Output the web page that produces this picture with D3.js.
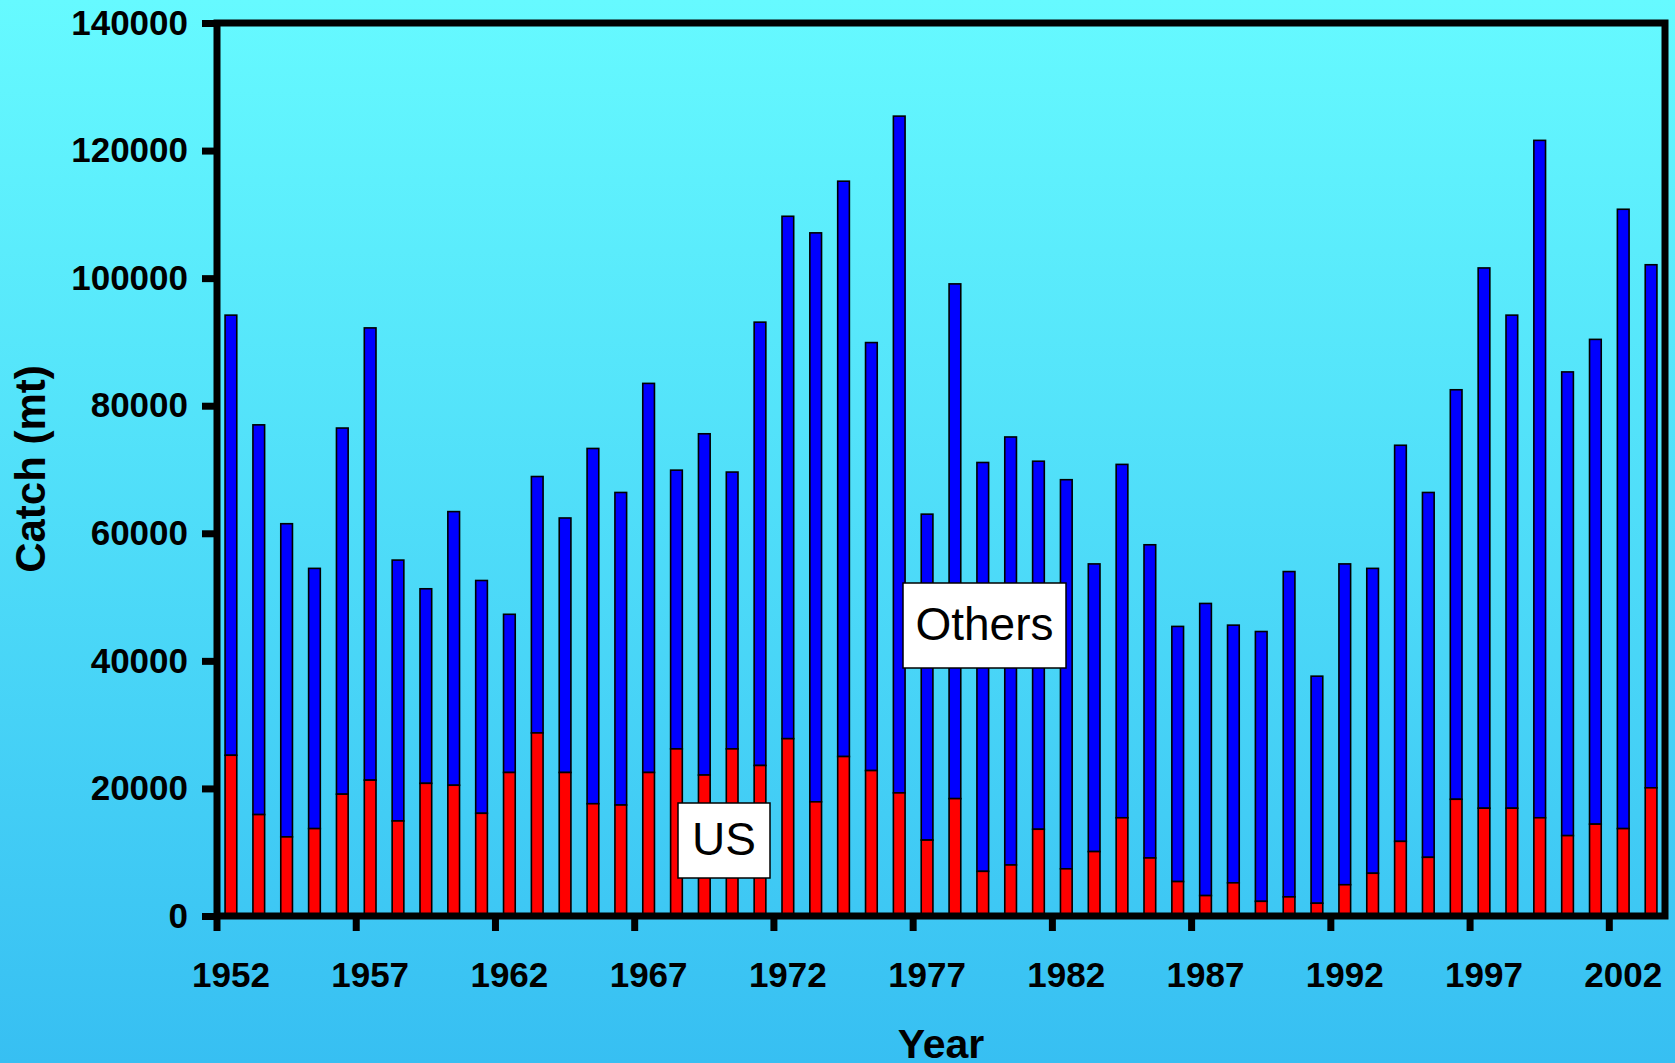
<!DOCTYPE html>
<html>
<head>
<meta charset="utf-8">
<script src="https://cdn.jsdelivr.net/npm/d3@7.9.0/dist/d3.min.js"></script>
<style>
  html, body { margin: 0; padding: 0; }
  body { width: 1675px; height: 1063px; overflow: hidden; }
  svg { display: block; font-family: "Liberation Sans", Arial, sans-serif; }
</style>
</head>
<body>
<svg width="1675" height="1063"></svg>
<script>
// catch by year, metric tons
const years = d3.range(1952, 2004);
const totalCatch = [
  94200, 77000, 61500, 54500, 76500, 92200, 55800, 51300, 63400, 52600,
  47300, 68900, 62400, 73300, 66400, 83500, 69900, 75600, 69600, 93100,
  109700, 107100, 115200, 89900, 125400, 63000, 99100, 71100, 75100, 71300,
  68400, 55200, 70800, 58200, 45400, 49000, 45600, 44600, 54000, 37600,
  55200, 54500, 73800, 66400, 82500, 101600, 94200, 121600, 85300, 90400,
  110800, 102100
];
const usCatch = [
  25200, 15900, 12400, 13700, 19100, 21300, 14900, 20800, 20500, 16100,
  22500, 28700, 22500, 17600, 17400, 22500, 26200, 22100, 26200, 23600,
  27800, 17900, 25000, 22800, 19300, 11900, 18400, 7000, 8000, 13600,
  7400, 10100, 15400, 9100, 5400, 3200, 5200, 2300, 3000, 2000,
  4900, 6700, 11700, 9200, 18300, 16900, 16900, 15400, 12600, 14400,
  13700, 20100
];
const yTicks = [0, 20000, 40000, 60000, 80000, 100000, 120000, 140000];
const xTickYears = [1952, 1957, 1962, 1967, 1972, 1977, 1982, 1987, 1992, 1997, 2002];

const rows = years.map((yr, i) => ({ year: yr, us: usCatch[i], total: totalCatch[i] }));

const svg = d3.select('svg');
const plotL = 217, plotR = 1665, plotT = 23, plotB = 916;

// background gradient
const defs = svg.append('defs');
const grad = defs.append('linearGradient').attr('id', 'bg').attr('x1', 0).attr('y1', 0).attr('x2', 0).attr('y2', 1);
grad.append('stop').attr('offset', '0%').attr('stop-color', '#66faff');
grad.append('stop').attr('offset', '100%').attr('stop-color', '#37bff2');
svg.append('rect').attr('width', 1675).attr('height', 1063).attr('fill', 'url(#bg)');

const x = d3.scaleBand().domain(years).range([plotL, plotR]).padding(0);
const y = d3.scaleLinear().domain([0, 140000]).range([plotB, plotT]);
const bw = x.bandwidth() * 0.42;

// others (blue) stacked above US (red)
svg.append('g').selectAll('rect').data(rows).join('rect')
  .attr('x', d => x(d.year) + (x.bandwidth() - bw) / 2)
  .attr('y', d => y(d.total))
  .attr('width', bw)
  .attr('height', d => y(d.us) - y(d.total))
  .attr('fill', '#0000ff').attr('stroke', '#000').attr('stroke-width', 1.6);

svg.append('g').selectAll('rect').data(rows).join('rect')
  .attr('x', d => x(d.year) + (x.bandwidth() - bw) / 2)
  .attr('y', d => y(d.us))
  .attr('width', bw)
  .attr('height', d => y(0) - y(d.us))
  .attr('fill', '#ff0000').attr('stroke', '#000').attr('stroke-width', 1.6);

// y axis
const yAxis = svg.append('g').attr('transform', `translate(${plotL},0)`)
  .call(d3.axisLeft(y).tickValues(yTicks).tickFormat(d3.format('d')).tickSizeInner(15).tickSizeOuter(0).tickPadding(14));
yAxis.select('.domain').remove();
yAxis.selectAll('.tick line').attr('stroke', '#000').attr('stroke-width', 7);
yAxis.selectAll('.tick text').attr('fill', '#000').attr('font-size', 35).attr('font-weight', 'bold')
  .attr('font-family', '"Liberation Sans", Arial, sans-serif');

// x axis: ticks on category edges, labels at category centres
const xg = svg.append('g');
xg.selectAll('line').data(xTickYears).join('line')
  .attr('x1', d => x(d)).attr('x2', d => x(d))
  .attr('y1', plotB).attr('y2', plotB + 15)
  .attr('stroke', '#000').attr('stroke-width', 7);
xg.selectAll('text').data(xTickYears).join('text')
  .attr('x', d => x(d) + x.bandwidth() / 2)
  .attr('y', 987)
  .attr('text-anchor', 'middle')
  .attr('font-size', 35).attr('font-weight', 'bold')
  .text(d => d);

// plot frame
svg.append('rect')
  .attr('x', plotL).attr('y', plotT).attr('width', plotR - plotL).attr('height', plotB - plotT)
  .attr('fill', 'none').attr('stroke', '#000').attr('stroke-width', 7);

// axis titles
svg.append('text')
  .attr('transform', 'translate(45,469) rotate(-90)')
  .attr('text-anchor', 'middle')
  .attr('font-size', 42).attr('font-weight', 'bold')
  .text('Catch (mt)');
svg.append('text')
  .attr('x', 941).attr('y', 1058)
  .attr('text-anchor', 'middle')
  .attr('font-size', 41).attr('font-weight', 'bold')
  .text('Year');

// series labels
const labels = [
  { text: 'Others', x0: 903, y0: 583, x1: 1066, y1: 668, size: 46, base: 640 },
  { text: 'US', x0: 678, y0: 803, x1: 770, y1: 878, size: 46, base: 855 }
];
const lg = svg.append('g');
labels.forEach(l => {
  lg.append('rect').attr('x', l.x0).attr('y', l.y0).attr('width', l.x1 - l.x0).attr('height', l.y1 - l.y0)
    .attr('fill', '#fff').attr('stroke', '#000').attr('stroke-width', 1.5);
  lg.append('text').attr('x', (l.x0 + l.x1) / 2).attr('y', l.base)
    .attr('text-anchor', 'middle').attr('font-size', l.size)
    .attr('font-family', 'Arial, "Liberation Sans", sans-serif')
    .text(l.text);
});
</script>
</body>
</html>
